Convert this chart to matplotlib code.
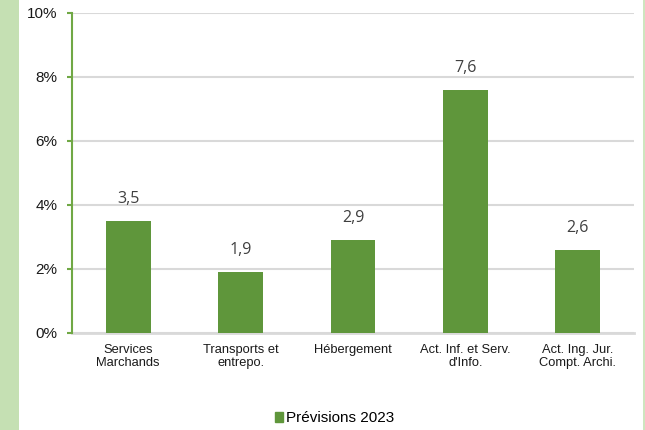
import matplotlib
matplotlib.use("Agg")
import matplotlib.pyplot as plt
from matplotlib.patches import Rectangle
from matplotlib.lines import Line2D
import numpy as np

categories = ["Services\nMarchands", "Transports et\nentrepo.", "Hébergement",
              "Act. Inf. et Serv.\nd'Info.", "Act. Ing. Jur.\nCompt. Archi."]
values = [3.5, 1.9, 2.9, 7.6, 2.6]
value_labels = ["3,5", "1,9", "2,9", "7,6", "2,6"]
series_name = "Prévisions 2023"
yticks = [0, 2, 4, 6, 8, 10]

bar_color = "#5f963b"
axis_green = "#70a845"
grid_grey = "#d9d9d9"
sans = ["Liberation Sans", "DejaVu Sans"]

fig = plt.figure(figsize=(6.45, 4.30), dpi=100)
fig.patch.set_facecolor("white")

# light green band on the left and thin border on the right
fig.patches.append(Rectangle((0, 0), 19 / 645, 1, transform=fig.transFigure,
                             facecolor="#c5e0b3", edgecolor="none", zorder=0))
fig.lines.append(Line2D([643.5 / 645, 643.5 / 645], [0, 1], transform=fig.transFigure,
                        color="#c5e0b3", linewidth=1.2))

ax = fig.add_axes([72 / 645, 97 / 430, 562 / 645, 320 / 430])
x = np.arange(len(categories))
bars = ax.bar(x, values, width=0.4, color=bar_color, zorder=3, label=series_name)

ax.set_xlim(-0.5, len(categories) - 0.5)
ax.set_ylim(0, 10)
ax.set_yticks(yticks)
ax.set_yticklabels([f"{t}%" for t in yticks], fontsize=11, color="#1a1a1a", family=sans)
ax.set_xticks(x)
ax.set_xticklabels(categories, fontsize=9.3, color="#1a1a1a", linespacing=1.05, family=sans)
ax.tick_params(axis="x", length=0, pad=8)
ax.tick_params(axis="y", length=3.5, width=1.5, color=axis_green, direction="out", pad=7)

for side in ["top", "right"]:
    ax.spines[side].set_visible(False)
ax.spines["left"].set_color(axis_green)
ax.spines["left"].set_linewidth(1.5)
ax.spines["bottom"].set_color(grid_grey)
ax.spines["bottom"].set_linewidth(2)
ax.spines["left"].set_zorder(4)

ax.yaxis.grid(True, color=grid_grey, linewidth=1.5, zorder=0)
ax.set_axisbelow(True)

for bar, lab in zip(bars, value_labels):
    ax.annotate(lab, xy=(bar.get_x() + bar.get_width() / 2, bar.get_height()),
                xytext=(0, 13), textcoords="offset points",
                ha="center", va="baseline", fontsize=11.5, color="#404040",
                family=["Open Sans", "DejaVu Sans"])

fig.legend(handles=[Rectangle((0, 0), 1, 1, color=bar_color)], labels=[series_name],
           loc="center", bbox_to_anchor=(334.5 / 645, 1 - 418.5 / 430), frameon=False,
           handlelength=0.55, handleheight=0.55, handletextpad=0.15,
           prop={"family": sans, "size": 11})

fig.savefig("out.png", dpi=100)
plt.close(fig)
